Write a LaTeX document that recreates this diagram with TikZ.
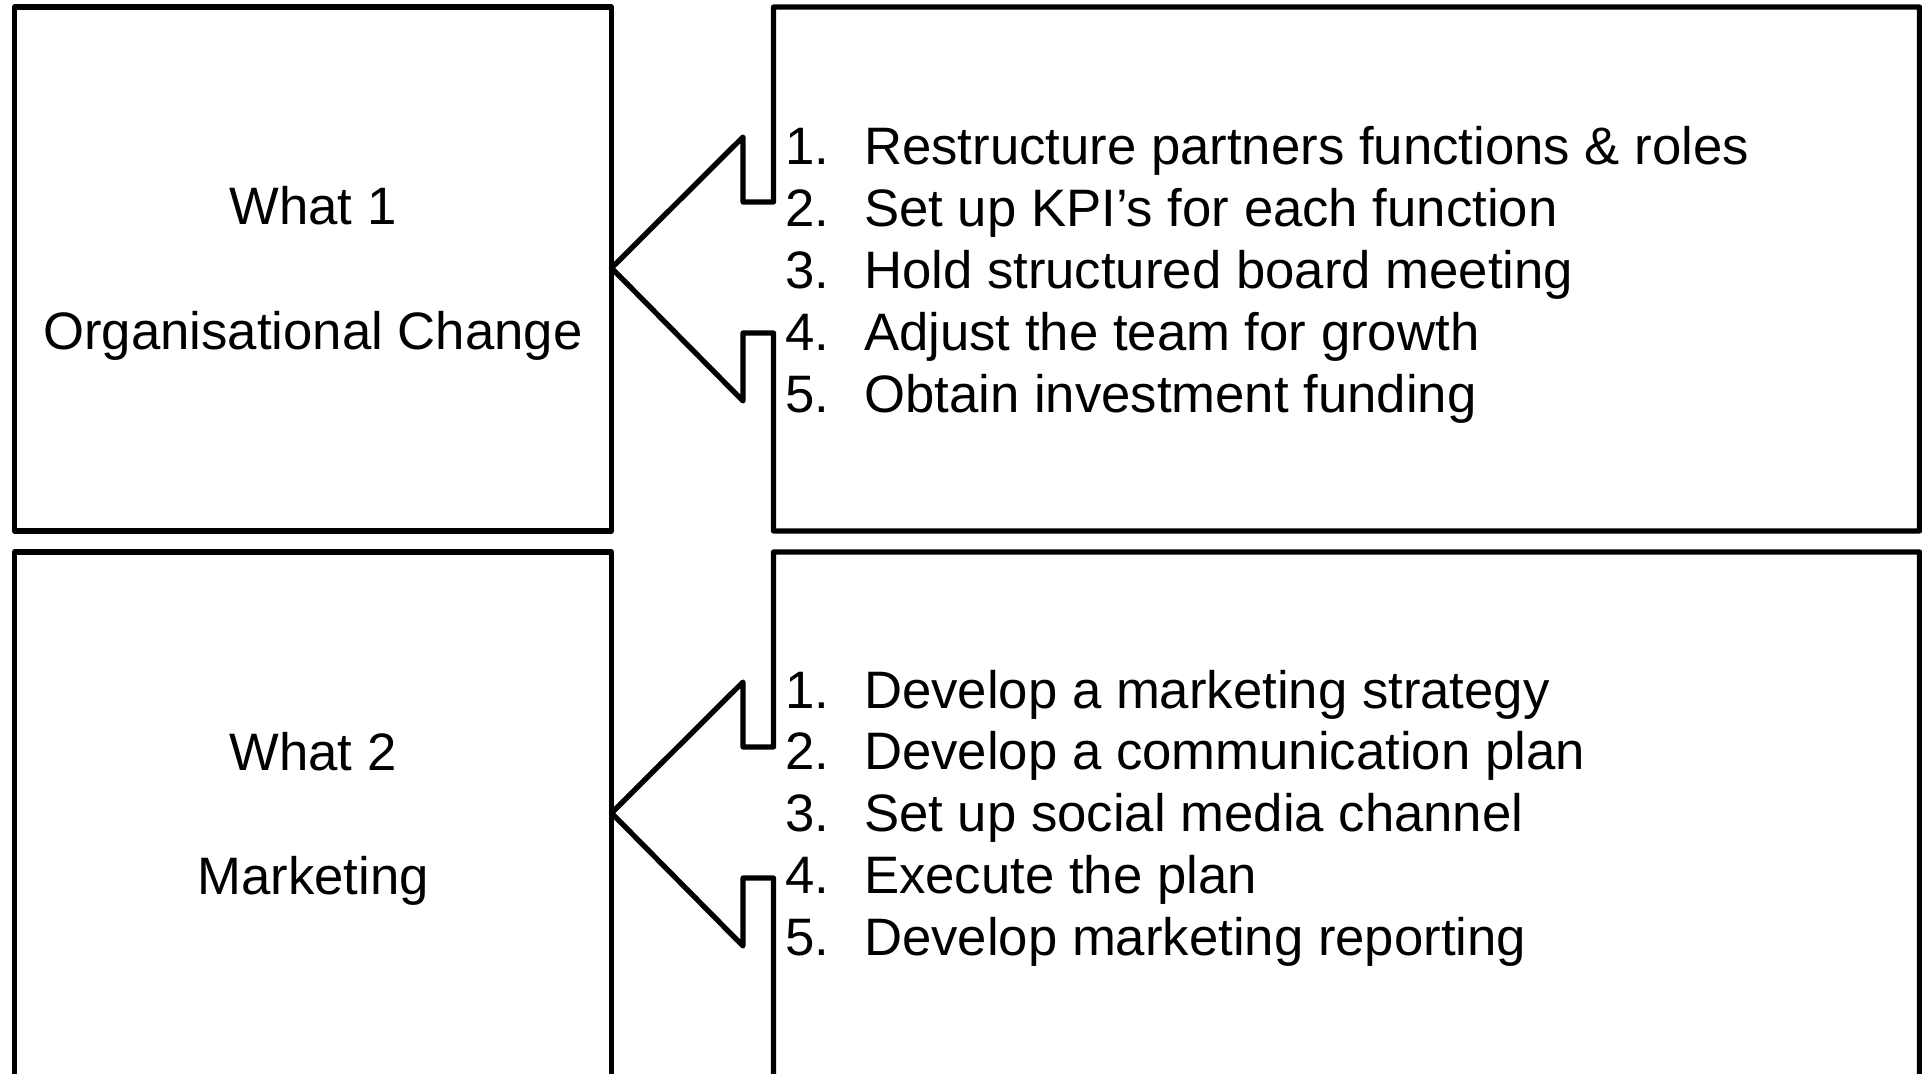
\documentclass[tikz,border=0pt]{standalone}
\usepackage{fontspec}
\setmainfont{Liberation Sans}

\begin{document}
\begin{tikzpicture}[x=0.02cm, y=-0.02cm, line width=3pt, line join=round,
    txt/.style={inner sep=0pt, font=\fontsize{30}{36}\selectfont}]
    \useasboundingbox (0, 0) rectangle (1922, 1074);
    \clip (0, 0) rectangle (1922, 1074);

    \foreach \row/\dy/\bot/\topic in {1/0/531/Organisational Change, 2/545/560/Marketing}{
        \begin{scope}[shift={(0, \dy)}]
            \draw (14.5, 7) rectangle (611.5, \bot) coordinate (what\row box);
            \draw (773.5, 202) -- (773.5, 7) -- (1919.5, 7) -- (1919.5, \bot)
                -- (773.5, \bot) -- (773.5, 333) -- (743, 333) -- (743, 401)
                -- (611.5, 268) -- (743, 137) -- (743, 202) -- cycle;
            \draw (313, 225) node[txt, anchor=base] (what\row) {What \row};
            \draw (313, 349) node[txt, anchor=base] (topic\row) {\topic};
        \end{scope}
    }

    \foreach \i/\task in {1/Restructure partners functions \& roles,
                          2/Set up KPI’s for each function,
                          3/Hold structured board meeting,
                          4/Adjust the team for growth,
                          5/Obtain investment funding}{
        \draw (782.5, 165 + 61.75*\i - 61.75) node[txt, anchor=base west] (num1\i) {\i.};
        \draw (861.5, 165 + 61.75*\i - 61.75) node[txt, anchor=base west] (task1\i) {\task};
    }
    \foreach \i/\task in {1/Develop a marketing strategy,
                          2/Develop a communication plan,
                          3/Set up social media channel,
                          4/Execute the plan,
                          5/Develop marketing reporting}{
        \draw (782.5, 708 + 61.75*\i - 61.75) node[txt, anchor=base west] (num2\i) {\i.};
        \draw (861.5, 708 + 61.75*\i - 61.75) node[txt, anchor=base west] (task2\i) {\task};
    }
\end{tikzpicture}
\end{document}
